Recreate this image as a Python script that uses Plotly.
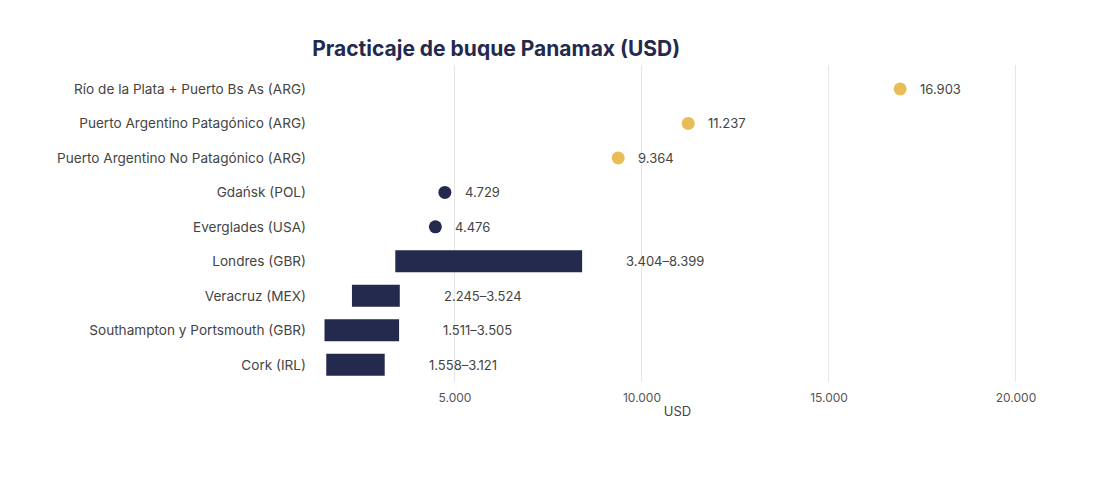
import plotly.graph_objects as go

# puertos, de arriba hacia abajo
puertos = ['Río de la Plata + Puerto Bs As (ARG)', 'Puerto Argentino Patagónico (ARG)',
           'Puerto Argentino No Patagónico (ARG)', 'Gdańsk (POL)', 'Everglades (USA)',
           'Londres (GBR)', 'Veracruz (MEX)', 'Southampton y Portsmouth (GBR)', 'Cork (IRL)']

# valores puntuales
puntos_arg = ['Río de la Plata + Puerto Bs As (ARG)', 'Puerto Argentino Patagónico (ARG)',
              'Puerto Argentino No Patagónico (ARG)']
valores_arg = [16903, 11237, 9364]
puntos_ext = ['Gdańsk (POL)', 'Everglades (USA)']
valores_ext = [4729, 4476]

# rangos min-max
rangos = ['Londres (GBR)', 'Veracruz (MEX)', 'Southampton y Portsmouth (GBR)', 'Cork (IRL)']
rango_min = [3404, 2245, 1511, 1558]
rango_max = [8399, 3524, 3505, 3121]

NAVY = '#232a4d'
GOLD = '#e9bd55'
FONT = 'Inter'


def fmt(v):
    return f'{v:,}'.replace(',', '.')


fig = go.Figure()

fig.add_trace(go.Bar(
    y=rangos,
    x=[hi - lo for lo, hi in zip(rango_min, rango_max)],
    base=rango_min,
    orientation='h',
    marker=dict(color=NAVY, line=dict(width=0)),
    width=0.64,
    showlegend=False,
))

fig.add_trace(go.Scatter(
    y=puntos_ext, x=valores_ext, mode='markers',
    marker=dict(color=NAVY, size=13),
    showlegend=False,
))

fig.add_trace(go.Scatter(
    y=puntos_arg, x=valores_arg, mode='markers',
    marker=dict(color=GOLD, size=13),
    showlegend=False,
))

annotations = []
for p, v in zip(puntos_arg + puntos_ext, valores_arg + valores_ext):
    annotations.append(dict(x=v, y=p, text=fmt(v), showarrow=False, xanchor='left',
                            xshift=18, font=dict(size=13, color='#444444', family=FONT)))
for p, lo, hi in zip(rangos, rango_min, rango_max):
    annotations.append(dict(x=hi, y=p, text=f'{fmt(lo)}–{fmt(hi)}', showarrow=False,
                            xanchor='left', xshift=42,
                            font=dict(size=13, color='#444444', family=FONT)))

fig.update_layout(
    width=1098, height=488,
    margin=dict(l=307, r=66, t=57, b=114),
    paper_bgcolor='white', plot_bgcolor='white',
    separators=',.',
    font=dict(family=FONT, size=13, color='#444444'),
    title=dict(text='<b>Practicaje de buque Panamax (USD)</b>', x=0.277, xref='container',
               xanchor='left', y=0.916, yanchor='middle',
               font=dict(size=21, color=NAVY, family=FONT)),
    annotations=annotations,
)

fig.update_xaxes(
    range=[1257, 20642],
    tickvals=[5000, 10000, 15000, 20000],
    ticktext=['5.000', '10.000', '15.000', '20.000'],
    showgrid=True, gridcolor='#e6e6e6', gridwidth=1,
    zeroline=False, showline=False,
    ticks='', ticklabelstandoff=7,
    tickfont=dict(size=12, color='#555555'),
    title=dict(text='USD', font=dict(size=13, color='#444444'), standoff=2),
)
fig.update_yaxes(
    categoryorder='array', categoryarray=puertos[::-1],
    showgrid=False, zeroline=False, showline=False,
    ticks='', ticklabelstandoff=8,
    tickfont=dict(size=13.6, color='#444444'),
)

fig.write_html('out.html')
